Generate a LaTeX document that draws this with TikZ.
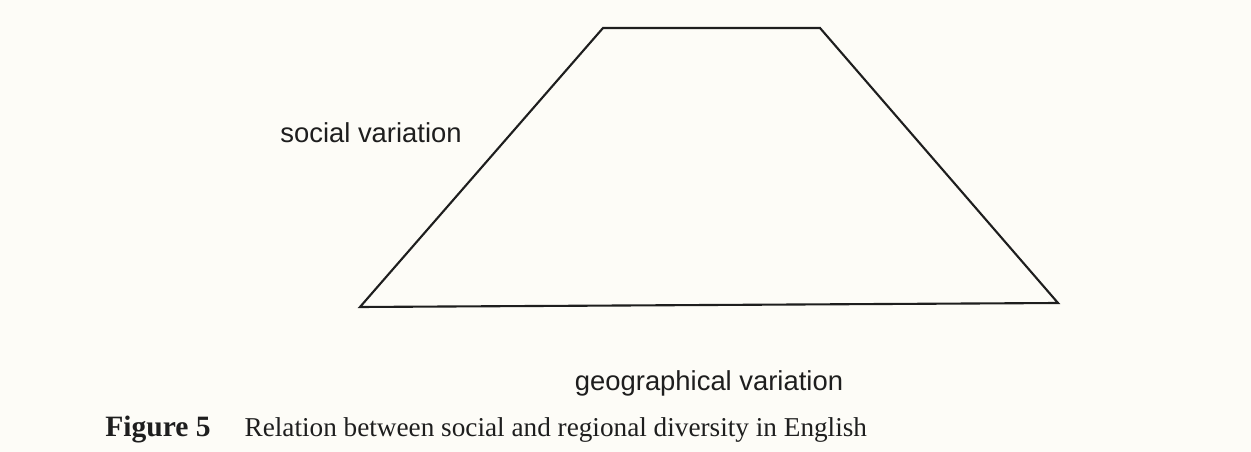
\documentclass[tikz,border=0pt]{standalone}
\usepackage{fontspec}
\setmainfont{Liberation Serif}
\setsansfont{Liberation Sans}
\usetikzlibrary{positioning}
\definecolor{paper}{HTML}{FDFCF7}
\definecolor{ink}{HTML}{1E1E1E}

\begin{document}
\begin{tikzpicture}[
    x=0.02cm, y=-0.02cm,
    edge/.style={
        draw=ink,
        line width=1.2pt,
        line join=miter
    },
    label/.style={
        font=\sffamily\fontsize{15.6}{18}\selectfont,
        text=ink,
        inner sep=0pt
    },
    caption/.style={
        font=\fontsize{15.5}{18}\selectfont,
        text=ink,
        inner sep=0pt,
        anchor=base west
    }
]

% =========================================================
% Page
% =========================================================
\fill[paper] (0,0) rectangle (1251,452);
\useasboundingbox (0,0) rectangle (1251,452);

% =========================================================
% Trapezoid corners
% =========================================================
\coordinate (topleft) at (603,28);
\coordinate (topright) at (820,28);
\coordinate (bottomright) at (1058,303);
\coordinate (bottomleft) at (360,307);

\draw[edge] (topleft) -- (topright) -- (bottomright) -- (bottomleft) -- cycle;

% =========================================================
% Labels
% =========================================================
\node[label] (social) at (371,133) {social variation};
\node[label] (geo) at (709,383) {geographical variation};

% =========================================================
% Caption
% =========================================================
\node[caption] (fig) at (105,437)
{{\fontsize{16.8}{18}\selectfont\bfseries Figure 5}\hspace{1.25em}Relation between social and regional diversity in English};

\end{tikzpicture}
\end{document}
